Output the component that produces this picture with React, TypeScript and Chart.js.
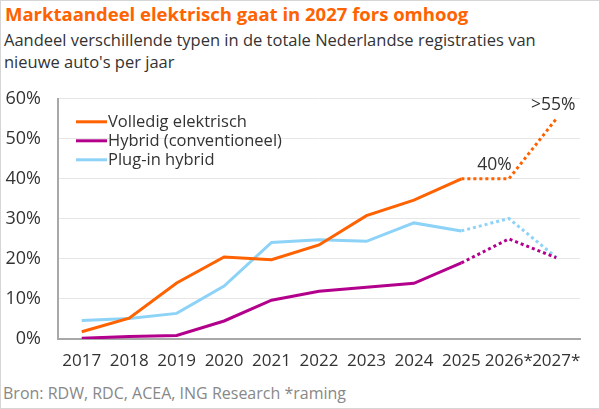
import React, { useEffect, useRef } from "react";
import { Chart, Plugin, registerables } from "chart.js";

Chart.register(...registerables);

const categories = ["2017", "2018", "2019", "2020", "2021", "2022", "2023", "2024", "2025", "2026*", "2027*"];
const volledigElektrisch = [1.8, 5.2, 14, 20.5, 19.8, 23.5, 30.8, 34.7, 40, 40, 55];
const hybridConventioneel = [0.2, 0.6, 0.9, 4.5, 9.7, 11.9, 12.9, 13.9, 19, 25, 20.3];
const pluginHybrid = [4.6, 5.1, 6.4, 13.2, 24.1, 24.8, 24.4, 29, 27, 30.1, 20.4];
const seriesNames = ["Volledig elektrisch", "Hybrid (conventioneel)", "Plug-in hybrid"];
const yTicks = [0, 10, 20, 30, 40, 50, 60];
const firstForecastIndex = 8; // segments from 2025 onwards are dotted

const ORANGE = "#FF6200";
const MAGENTA = "#B3008C";
const SKY = "#8DD3F7";
const FONT = "'Open Sans', sans-serif";

// legend drawn inside the plot, top-left
const insideLegend: Plugin<"line"> = {
  id: "insideLegend",
  afterDatasetsDraw(chart) {
    const ctx = chart.ctx;
    const { left, top } = chart.chartArea;
    ctx.save();
    ctx.font = `16.5px ${FONT}`;
    ctx.textBaseline = "middle";
    chart.data.datasets.forEach((ds, i) => {
      const y = top + 23 + i * 19;
      ctx.strokeStyle = ds.borderColor as string;
      ctx.lineWidth = 3;
      ctx.beginPath();
      ctx.moveTo(left + 18, y);
      ctx.lineTo(left + 49, y);
      ctx.stroke();
      ctx.fillStyle = "#333";
      ctx.fillText(ds.label as string, left + 50, y);
    });
    ctx.restore();
  },
};

// value callouts for the forecast years
const callouts: Plugin<"line"> = {
  id: "callouts",
  afterDatasetsDraw(chart) {
    const ctx = chart.ctx;
    const meta = chart.getDatasetMeta(0);
    ctx.save();
    ctx.font = `17.5px ${FONT}`;
    ctx.fillStyle = "#333";
    ctx.textBaseline = "bottom";
    const p26 = meta.data[9];
    ctx.textAlign = "right";
    ctx.fillText(`${volledigElektrisch[9]}%`, p26.x + 3, p26.y - 5);
    const p27 = meta.data[10];
    ctx.textAlign = "center";
    ctx.fillText(`>${volledigElektrisch[10]}%`, p27.x - 3, p27.y - 5);
    ctx.restore();
  },
};

const App: React.FC = () => {
  const canvasRef = useRef<HTMLCanvasElement | null>(null);

  useEffect(() => {
    document.body.style.margin = "0";
    if (!canvasRef.current) return;

    const dotted = (c: any) => (c.p0DataIndex >= firstForecastIndex ? [3, 3] : undefined);
    const mkSet = (label: string, data: number[], color: string) => ({
      label,
      data,
      borderColor: color,
      backgroundColor: color,
      borderWidth: 3,
      pointRadius: 0,
      tension: 0,
      segment: { borderDash: dotted },
    });

    const chart = new Chart(canvasRef.current, {
      type: "line",
      data: {
        labels: categories,
        datasets: [
          mkSet(seriesNames[0], volledigElektrisch, ORANGE),
          mkSet(seriesNames[1], hybridConventioneel, MAGENTA),
          mkSet(seriesNames[2], pluginHybrid, SKY),
        ],
      },
      options: {
        animation: false,
        responsive: false,
        layout: { padding: { top: 0, right: 21, left: 0, bottom: 0 } },
        plugins: {
          legend: { display: false },
          tooltip: { enabled: false },
        },
        scales: {
          x: {
            offset: true,
            grid: { display: false, drawTicks: false },
            border: { display: true, color: "#A8A8A8", width: 2 },
            ticks: {
              color: "#333",
              font: { family: FONT, size: 17 },
              padding: 12,
              maxRotation: 0,
              autoSkip: false,
            },
            afterFit: (s) => {
              s.height = 34;
            },
          },
          y: {
            min: 0,
            max: 60,
            afterBuildTicks: (s) => {
              s.ticks = yTicks.map((v) => ({ value: v }));
            },
            grid: { color: "#E6E6E6", lineWidth: 1, drawTicks: false },
            border: { display: true, color: "#A8A8A8", width: 2 },
            ticks: {
              color: "#333",
              font: { family: FONT, size: 18 },
              padding: 17,
              callback: (v) => `${v}%`,
            },
            afterFit: (s) => {
              s.width = 57;
            },
          },
        },
      },
      plugins: [insideLegend, callouts],
    });

    return () => chart.destroy();
  }, []);

  return (
    <div
      style={{
        position: "relative",
        width: 600,
        height: 409,
        boxSizing: "border-box",
        border: "1px solid #D6D6D6",
        background: "#fff",
        fontFamily: FONT,
        overflow: "hidden",
      }}
    >
      <div
        style={{
          position: "absolute",
          left: 4,
          top: 0,
          fontSize: 18.5,
          fontWeight: 700,
          color: ORANGE,
          lineHeight: "26px",
          whiteSpace: "nowrap",
        }}
      >
        Marktaandeel elektrisch gaat in 2027 fors omhoog
      </div>
      <div
        style={{
          position: "absolute",
          left: 3,
          top: 28,
          fontSize: 16.5,
          color: "#333",
          lineHeight: "22px",
          whiteSpace: "nowrap",
        }}
      >
        Aandeel verschillende typen in de totale Nederlandse registraties van
        <br />
        nieuwe auto's per jaar
      </div>
      <canvas ref={canvasRef} width={600} height={302} style={{ position: "absolute", left: 0, top: 70 }} />
      <div
        style={{
          position: "absolute",
          left: 2,
          top: 381,
          fontSize: 16,
          color: "#888",
          lineHeight: "22px",
          whiteSpace: "nowrap",
        }}
      >
        Bron: RDW, RDC, ACEA, ING Research *raming
      </div>
    </div>
  );
};

export default App;
